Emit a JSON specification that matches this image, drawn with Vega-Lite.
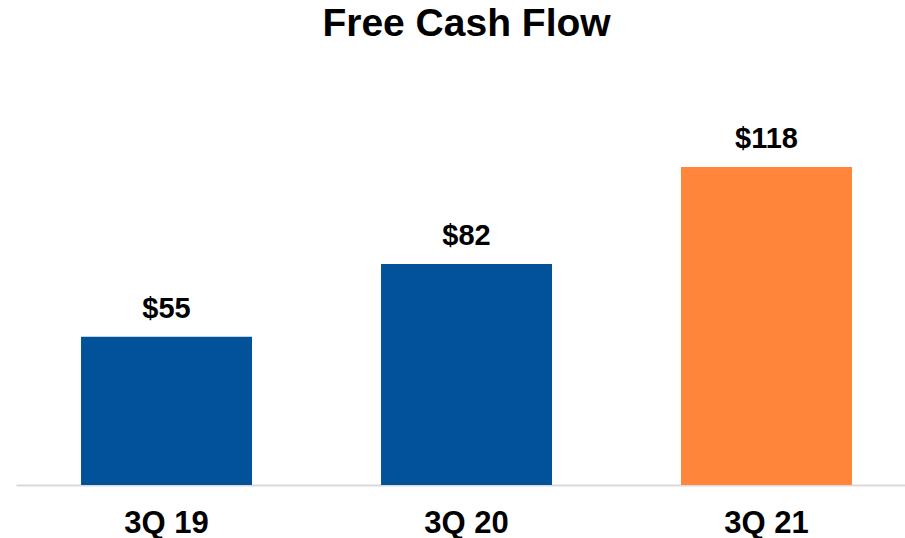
{
  "$schema": "https://vega.github.io/schema/vega-lite/v6.json",
  "width": 889,
  "height": 425,
  "autosize": "none",
  "padding": {"left": 16, "top": 60, "right": 0, "bottom": 53},
  "background": "white",
  "title": {
    "text": "Free Cash Flow",
    "font": "Liberation Sans",
    "fontSize": 39,
    "fontWeight": "bold",
    "color": "#000000",
    "anchor": "middle",
    "frame": "group",
    "baseline": "bottom",
    "offset": 14,
    "dy": 37,
    "dx": 6
  },
  "data": {
    "values": [
      {"period": "3Q 19", "value": 55, "label": "$55", "highlight": "no"},
      {"period": "3Q 20", "value": 82, "label": "$82", "highlight": "no"},
      {"period": "3Q 21", "value": 118, "label": "$118", "highlight": "yes"}
    ]
  },
  "encoding": {
    "x": {
      "field": "period",
      "type": "nominal",
      "sort": null,
      "scale": {"paddingInner": 0.43, "paddingOuter": 0.1967, "align": 0.551},
      "axis": {
        "title": null,
        "labelAngle": 0,
        "labelFont": "Liberation Sans",
        "labelFontSize": 31,
        "labelFontWeight": "bold",
        "labelColor": "#000000",
        "labelBaseline": "alphabetic",
        "labelPadding": 47,
        "ticks": false,
        "domainColor": "#D9D9D9",
        "domainWidth": 2,
        "grid": false
      }
    },
    "y": {
      "field": "value",
      "type": "quantitative",
      "scale": {"domain": [0, 157.7], "nice": false},
      "axis": null
    }
  },
  "layer": [
    {
      "mark": {"type": "bar"},
      "encoding": {
        "color": {
          "field": "highlight",
          "type": "nominal",
          "scale": {"domain": ["no", "yes"], "range": ["#02529A", "#FF863A"]},
          "legend": null
        }
      }
    },
    {
      "mark": {
        "type": "text",
        "font": "Liberation Sans",
        "fontSize": 29,
        "fontWeight": "bold",
        "color": "#000000",
        "baseline": "alphabetic",
        "dy": -19
      },
      "encoding": {"text": {"field": "label"}}
    }
  ],
  "config": {"view": {"stroke": null}}
}
